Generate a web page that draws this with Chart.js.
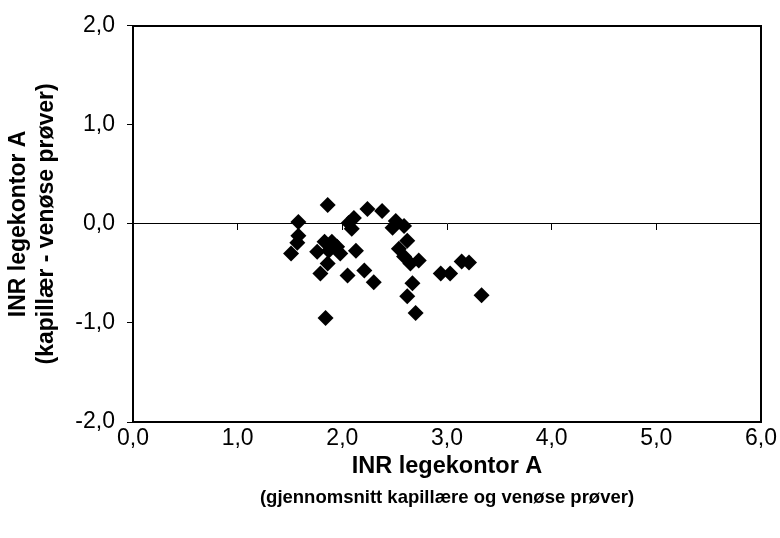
<!DOCTYPE html>
<html>
<head>
<meta charset="utf-8">
<script src="https://cdn.jsdelivr.net/npm/chart.js@4/dist/chart.umd.min.js"></script>
<style>
  html, body { margin: 0; padding: 0; background: #fff; }
  #wrap { width: 780px; height: 538px; }
</style>
</head>
<body>
<div id="wrap"><canvas id="c" width="780" height="538"></canvas></div>
<script>
// INR legekontor A: mean of capillary and venous (x) vs difference capillary - venous (y)
const meanINR = [
  1.51, 1.58, 1.58, 1.57, 1.76, 1.83, 1.90, 1.95, 1.87, 1.98,
  1.86, 1.79, 2.05, 1.86, 1.84, 2.06, 2.11, 2.09, 2.24, 2.38,
  2.51, 2.48, 2.59, 2.13, 2.21, 2.30, 2.62, 2.54, 2.59, 2.65,
  2.73, 2.67, 2.62, 2.70, 2.94, 3.03, 3.14, 3.21, 3.33
];
const diffINR = [
  -0.30, 0.02, -0.12, -0.19, -0.28, -0.18, -0.18, -0.23, -0.27, -0.30,
  -0.40, -0.50, -0.52, 0.19, -0.95, 0.01, 0.06, -0.05, 0.15, 0.13,
  0.03, -0.04, -0.02, -0.27, -0.47, -0.59, -0.17, -0.25, -0.33, -0.40,
  -0.37, -0.60, -0.73, -0.90, -0.50, -0.50, -0.38, -0.39, -0.72
];
const xTitle = 'INR legekontor A';
const xSubTitle = '(gjennomsnitt kapillære og venøse prøver)';
const yTitle = ['INR legekontor A', '(kapillær - venøse prøver)'];
const xRange = [0, 6];
const yRange = [-2, 2];

const points = meanINR.map((x, i) => ({ x: x, y: diffINR[i] }));
const fmt = v => Number(v).toFixed(1).replace('.', ',');
const FONT = 'Liberation Sans, Arial, Helvetica, sans-serif';

const frame = {
  id: 'frame',
  afterDraw(chart) {
    const a = chart.chartArea, ctx = chart.ctx;
    ctx.save();
    ctx.strokeStyle = '#000';
    ctx.lineWidth = 2;
    ctx.strokeRect(Math.round(a.left), Math.round(a.top), Math.round(a.right) - Math.round(a.left), Math.round(a.bottom) - Math.round(a.top));
    ctx.restore();
  }
};

new Chart(document.getElementById('c'), {
  type: 'scatter',
  data: {
    datasets: [{
      data: points,
      pointStyle: 'rectRot',
      pointRadius: 8,
      pointHoverRadius: 8,
      backgroundColor: '#000',
      borderColor: '#000',
      borderWidth: 0
    }]
  },
  plugins: [frame],
  options: {
    responsive: false,
    animation: false,
    events: [],
    layout: { padding: { top: 21, right: 18, left: 0, bottom: 0 } },
    plugins: { legend: { display: false }, tooltip: { enabled: false } },
    scales: {
      x: {
        type: 'linear', position: 'bottom', weight: 0, min: xRange[0], max: xRange[1],
        ticks: { stepSize: 1, callback: fmt, color: '#000', padding: 3, maxRotation: 0,
                 font: { family: FONT, size: 23 } },
        grid: { display: false, drawTicks: false, tickLength: 0 },
        border: { display: false },
        title: { display: true, text: xTitle, color: '#000',
                 font: { family: FONT, size: 23.5, weight: 'bold', lineHeight: 1.2 },
                 padding: { top: 0, bottom: 1 } },
        afterFit: s => { s.height = 60; }
      },
      x2: {
        type: 'linear', position: 'bottom', weight: 1, min: xRange[0], max: xRange[1],
        ticks: { display: false },
        grid: { display: false, drawTicks: false, tickLength: 0 },
        border: { display: false },
        title: { display: true, text: xSubTitle, color: '#000',
                 font: { family: FONT, size: 18.5, weight: 'bold', lineHeight: 1.2 },
                 padding: { top: 0, bottom: 29 } },
        afterFit: s => { s.height = 56; }
      },
      x0: {
        type: 'linear', axis: 'x', position: { y: 0 }, min: xRange[0], max: xRange[1],
        ticks: { display: false, stepSize: 1 },
        grid: { drawOnChartArea: false, drawTicks: true, tickLength: 6, color: '#000', lineWidth: 1 },
        border: { display: true, color: '#000', width: 1 }
      },
      y: {
        type: 'linear', position: 'left', min: yRange[0], max: yRange[1],
        ticks: { stepSize: 1, callback: fmt, color: '#000', padding: 12,
                 font: { family: FONT, size: 23 } },
        grid: { drawOnChartArea: false, drawTicks: true, tickLength: 6, color: '#000', lineWidth: 1 },
        border: { display: false },
        title: { display: true, text: yTitle, color: '#000',
                 font: { family: FONT, size: 23, weight: 'bold', lineHeight: 1.2 },
                 padding: { top: 5, bottom: 0 } },
        afterFit: s => { s.width = 133; }
      }
    }
  }
});
</script>
</body>
</html>
